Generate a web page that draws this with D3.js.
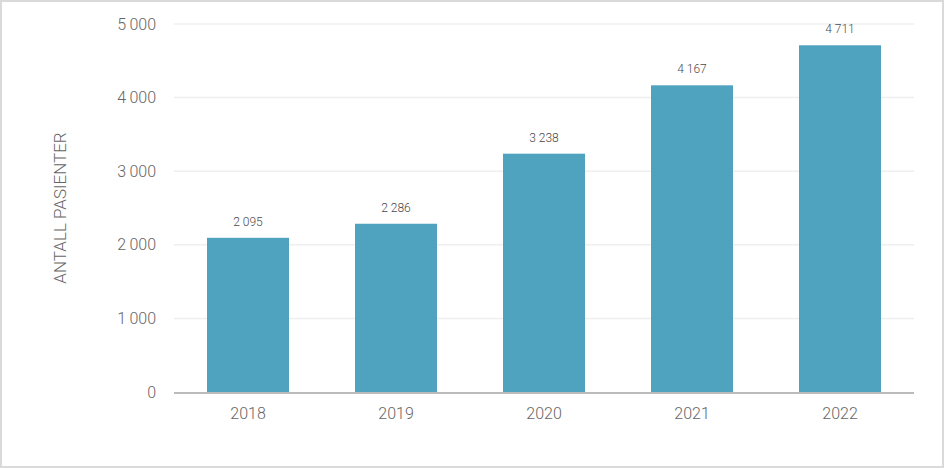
<!DOCTYPE html>
<html><head><meta charset="utf-8">
<script src="https://cdn.jsdelivr.net/npm/d3@7"></script>
<style>
html,body{margin:0;padding:0;background:#fff;}
svg{display:block;font-family:Roboto, "Open Sans", sans-serif;}
</style></head><body>
<svg id="c" width="944" height="468"></svg>
<script>
const years = ["2018","2019","2020","2021","2022"];
const patients = [2095, 2286, 3238, 4167, 4711];
const yTicks = [0, 1000, 2000, 3000, 4000, 5000];
const yTitle = "ANTALL PASIENTER";

(function(){
const svg = d3.select("#c");
const W = 944, H = 468;
svg.append("rect").attr("x",1).attr("y",1).attr("width",W-2).attr("height",H-2)
  .attr("fill","#fff").attr("stroke","#dadada").attr("stroke-width",2);

const pl = 174, pr = 914, pt = 24, pb = 392;
const x = d3.scaleBand().domain(years).range([pl, pr]).paddingInner(0.446).paddingOuter(0.223);
const y = d3.scaleLinear().domain([0, 5000]).range([pb, pt]);
const fmt = v => d3.format(",")(v).replace(/,/g, " ");
const fmtTick = v => d3.format(",")(v).replace(/,/g, "\u2009");

// gridlines
svg.append("g").selectAll("line").data(yTicks.filter(d=>d>0)).join("line")
  .attr("x1", pl).attr("x2", pr)
  .attr("y1", d=>y(d)).attr("y2", d=>y(d))
  .attr("stroke","#efefef").attr("stroke-width",1.5);

// y axis labels
const yAxis = d3.axisLeft(y).tickValues(yTicks).tickSize(0).tickPadding(18).tickFormat(fmtTick);
const gy = svg.append("g").attr("transform",`translate(${pl},0)`).call(yAxis);
gy.select(".domain").remove();
gy.selectAll("text").attr("fill","#666").attr("font-size",16).attr("font-weight",300)
  .attr("font-family","Roboto, sans-serif");

// bars
svg.append("g").selectAll("rect").data(years).join("rect")
  .attr("x", d=>x(d)).attr("width", x.bandwidth())
  .attr("y", (d,i)=>y(patients[i])).attr("height", (d,i)=>pb - y(patients[i]))
  .attr("fill","#4fa3bf");

// value labels
svg.append("g").selectAll("text").data(years).join("text")
  .attr("x", d=>x(d)+x.bandwidth()/2)
  .attr("y", (d,i)=>y(patients[i]) - 12)
  .attr("text-anchor","middle")
  .attr("fill","#4a4a4a").attr("font-size",12).attr("font-weight",300).attr("font-family","Roboto, sans-serif")
  .text((d,i)=>fmt(patients[i]));

// x axis
const xAxis = d3.axisBottom(x).tickSize(0).tickPadding(16);
const gx = svg.append("g").attr("transform",`translate(0,${pb})`).call(xAxis);
gx.select(".domain").remove();
gx.selectAll("text").attr("fill","#666").attr("font-size",16).attr("font-weight",300)
  .attr("font-family","Roboto, sans-serif");
svg.append("line").attr("x1",pl).attr("x2",pr).attr("y1",pb+1).attr("y2",pb+1)
  .attr("stroke","#bbbbbb").attr("stroke-width",2);

// y title
svg.append("text").attr("transform",`translate(66,${(pt+pb)/2}) rotate(-90)`)
  .attr("text-anchor","middle").attr("fill","#666").attr("font-size",17).attr("font-weight",300)
  .attr("font-family","Roboto, sans-serif").text(yTitle);
})();
</script>
</body></html>
